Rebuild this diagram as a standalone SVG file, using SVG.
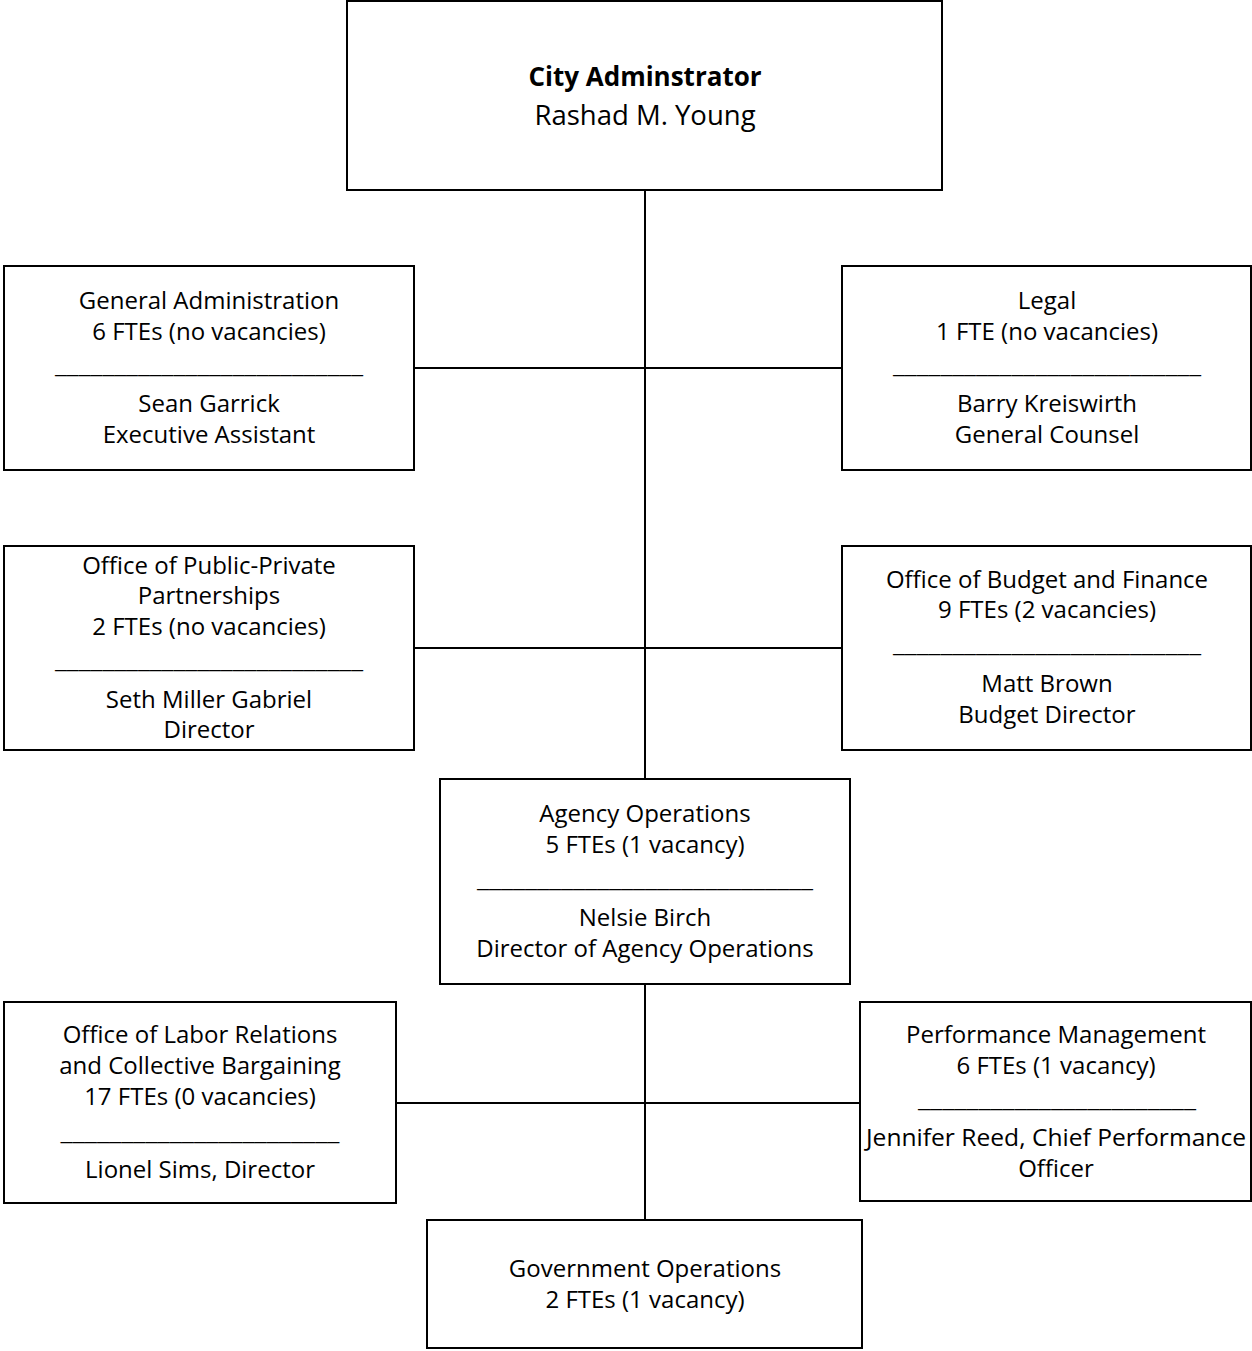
<svg xmlns="http://www.w3.org/2000/svg" width="1252" height="1351" viewBox="0 0 1252 1351">
<style>
rect{fill:#fff;stroke:#000;stroke-width:2}
line{stroke:#000;stroke-width:2}
text{font-family:"Open Sans","Liberation Sans",sans-serif;font-size:24px;fill:#000;text-anchor:middle}
.t{font-size:27.5px}
.b{font-weight:bold;font-size:26px}
</style>
<rect width="1252" height="1351" style="fill:#fff;stroke:none"/>
<g id="connectors">
<line x1="645" y1="190" x2="645" y2="779"/>
<line x1="414" y1="368" x2="842" y2="368"/>
<line x1="414" y1="648" x2="842" y2="648"/>
<line x1="645" y1="984" x2="645" y2="1220"/>
<line x1="396" y1="1103" x2="860" y2="1103"/>
</g>
<g id="city-administrator">
<rect x="347" y="1" width="595" height="189"/>
<text class="t b" x="645" y="86">City Adminstrator</text>
<text class="t" x="645" y="125">Rashad M. Young</text>
</g>
<g id="general-administration">
<rect x="4" y="266" width="410" height="204"/>
<text x="209" y="309">General Administration</text>
<text x="209" y="340">6 FTEs (no vacancies)</text>
<text x="209" y="373" textLength="308" lengthAdjust="spacingAndGlyphs">__________________________</text>
<text x="209" y="412">Sean Garrick</text>
<text x="209" y="443">Executive Assistant</text>
</g>
<g id="legal">
<rect x="842" y="266" width="409" height="204"/>
<text x="1047" y="309">Legal</text>
<text x="1047" y="340">1 FTE (no vacancies)</text>
<text x="1047" y="373" textLength="308" lengthAdjust="spacingAndGlyphs">__________________________</text>
<text x="1047" y="412">Barry Kreiswirth</text>
<text x="1047" y="443">General Counsel</text>
</g>
<g id="public-private">
<rect x="4" y="546" width="410" height="204"/>
<text x="209" y="574">Office of Public-Private</text>
<text x="209" y="604">Partnerships</text>
<text x="209" y="635">2 FTEs (no vacancies)</text>
<text x="209" y="668" textLength="308" lengthAdjust="spacingAndGlyphs">__________________________</text>
<text x="209" y="708">Seth Miller Gabriel</text>
<text x="209" y="738">Director</text>
</g>
<g id="budget-finance">
<rect x="842" y="546" width="409" height="204"/>
<text x="1047" y="588">Office of Budget and Finance</text>
<text x="1047" y="618">9 FTEs (2 vacancies)</text>
<text x="1047" y="652" textLength="308" lengthAdjust="spacingAndGlyphs">__________________________</text>
<text x="1047" y="692">Matt Brown</text>
<text x="1047" y="723">Budget Director</text>
</g>
<g id="agency-operations">
<rect x="440" y="779" width="410" height="205"/>
<text x="645" y="822">Agency Operations</text>
<text x="645" y="853">5 FTEs (1 vacancy)</text>
<text x="645" y="887" textLength="336" lengthAdjust="spacingAndGlyphs">____________________________</text>
<text x="645" y="926">Nelsie Birch</text>
<text x="645" y="957">Director of Agency Operations</text>
</g>
<g id="labor-relations">
<rect x="4" y="1002" width="392" height="201"/>
<text x="200" y="1043">Office of Labor Relations</text>
<text x="200" y="1074">and Collective Bargaining</text>
<text x="200" y="1105">17 FTEs (0 vacancies)</text>
<text x="200" y="1140" textLength="279" lengthAdjust="spacingAndGlyphs">_______________________</text>
<text x="200" y="1178">Lionel Sims, Director</text>
</g>
<g id="performance-management">
<rect x="860" y="1002" width="391" height="199"/>
<text x="1056" y="1043">Performance Management</text>
<text x="1056" y="1074">6 FTEs (1 vacancy)</text>
<text x="1057" y="1107" textLength="278" lengthAdjust="spacingAndGlyphs">_______________________</text>
<text x="1056" y="1146" textLength="380" lengthAdjust="spacingAndGlyphs">Jennifer Reed, Chief Performance</text>
<text x="1056" y="1177">Officer</text>
</g>
<g id="government-operations">
<rect x="427" y="1220" width="435" height="128"/>
<text x="645" y="1277">Government Operations</text>
<text x="645" y="1308">2 FTEs (1 vacancy)</text>
</g>
</svg>
